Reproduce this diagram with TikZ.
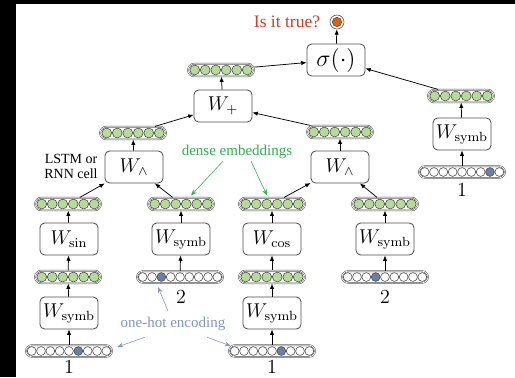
\documentclass[tikz,border=0pt]{standalone}
\usepackage[no-math]{fontspec}
\setmainfont{Liberation Serif}
\usetikzlibrary{arrows.meta,calc}
\definecolor{gfill}{HTML}{B4DC96}
\definecolor{hfill}{HTML}{6A7EA6}
\definecolor{ofill}{HTML}{E0600F}
\definecolor{qred}{HTML}{D23A22}
\definecolor{egreen}{HTML}{2DB34A}
\definecolor{oblue}{HTML}{7F95C2}
\definecolor{edge}{HTML}{4D4D4D}
\tikzset{
  fbox/.style={draw=edge, line width=0.5pt, rounded corners=2.8pt, minimum width=34.8pt, minimum height=19.2pt, inner sep=0pt, font=\fontsize{12}{14}\selectfont},
  contbase/.style={draw=edge, double=white, double distance=0.4pt, line width=0.3pt, inner sep=0pt},
  gcont/.style={contbase, rounded corners=3.9pt, minimum width=39.6pt, minimum height=7.6pt},
  hcont/.style={contbase, rounded corners=3.6pt, minimum width=51.6pt, minimum height=7pt},
  gdot/.style={circle, draw=edge, line width=0.35pt, fill=gfill, minimum size=5.9pt, inner sep=0pt},
  hdot/.style={circle, draw=edge, line width=0.35pt, fill=white, minimum size=5.3pt, inner sep=0pt},
  hon/.style={hdot, fill=hfill},
  conn/.style={-{Latex[length=3.2pt,width=2.6pt]}, line width=0.45pt, black},
  annG/.style={-{Stealth[length=3.6pt,width=2.8pt]}, egreen, line width=0.35pt},
  annB/.style={-{Stealth[length=3.6pt,width=2.8pt]}, oblue, line width=0.35pt},
  idx/.style={font=\fontsize{12}{14}\selectfont, inner sep=0pt},
}
\newcommand{\gvec}[2]{\node[gcont] (#1) at (#2) {};
  \foreach \i in {1,...,6}{\node[gdot] (#1-\i) at ([xshift={(\i-3.5)*6.3pt}]#1.center) {};}}
\newcommand{\hvec}[3]{\node[hcont] (#1) at (#2) {};
  \foreach \i in {1,...,9}{\ifnum\i=#3 \def\hst{hon}\else\def\hst{hdot}\fi
    \node[\hst] (#1-\i) at ([xshift={(\i-5)*5.6pt}]#1.center) {};}}
\begin{document}
\begin{tikzpicture}[x=0.6pt,y=-0.6pt]
\useasboundingbox (0,0) rectangle (515,377);
\fill[black] (0,0) rectangle (515,377);
\fill[white] (16,4) rectangle (515,377);

% top
\node[circle, draw=edge, line width=0.35pt, minimum size=8.4pt, inner sep=0pt] (out) at (337,22) {};
\node[circle, draw=edge, line width=0.35pt, fill=ofill, minimum size=5.6pt, inner sep=0pt] (outin) at (out) {};
\node[text=qred, font=\rmfamily\fontsize{10.5}{12}\selectfont, inner sep=0pt] (q) at (287,22) {Is it true?};
\node[fbox, font=\fontsize{14.4}{16}\selectfont] (sig) at (336,60) {$\sigma(\cdot)$};
\gvec{g0}{221,70}
\node[fbox] (wplus) at (223,106) {$W_{+}$};

% right column
\gvec{gR}{461,96}
\node[fbox] (wsR) at (462,134) {$W_{\mathrm{symb}}$};
\hvec{hR}{462,172}{8}
\node[idx] (lR) at (462,190) {$1$};

% level 2
\gvec{gL}{133,133}
\gvec{gM}{340,132}
\node[fbox] (andL) at (134,167) {$W_{\wedge}$};
\node[fbox] (andR) at (340,167) {$W_{\wedge}$};
\node[font=\rmfamily\fontsize{8.4}{9}\selectfont, align=center, inner sep=0pt] (lstm) at (71,166) {LSTM or\\RNN cell};
\node[text=egreen, font=\rmfamily\fontsize{9}{11}\selectfont, inner sep=0pt] (dense) at (237,152) {dense embeddings};

% level 3
\gvec{e1}{68,204}
\gvec{e2}{181,204}
\gvec{e3}{272,204}
\gvec{e4}{385,204}

% level 4
\node[fbox] (wsin) at (69,239) {$W_{\mathrm{sin}}$};
\node[fbox] (ws2) at (181,239) {$W_{\mathrm{symb}}$};
\node[fbox] (wcos) at (272,239) {$W_{\mathrm{cos}}$};
\node[fbox] (ws4) at (385,239) {$W_{\mathrm{symb}}$};

% level 5
\gvec{f1}{68,277}
\hvec{f2}{180,277}{3}
\node[idx] (l2a) at (181,297) {$2$};
\gvec{f3}{272,277}
\hvec{f4}{385,277}{4}
\node[idx] (l2b) at (385,297) {$2$};

% level 6
\node[fbox] (ws6a) at (69,313) {$W_{\mathrm{symb}}$};
\node[fbox] (ws6b) at (272,313) {$W_{\mathrm{symb}}$};
\node[text=oblue, font=\rmfamily\fontsize{9}{11}\selectfont, inner sep=0pt] (onehot) at (173,324) {one-hot encoding};

% level 7
\hvec{b1}{69,351}{6}
\node[idx] (l1a) at (69,367) {$1$};
\hvec{b2}{272,351}{6}
\node[idx] (l1b) at (272,367) {$1$};

% connectors
\draw[conn] (sig) -- (out);
\draw[conn] (g0) -- (sig);
\draw[conn] (gR) -- (sig);
\draw[conn] (wplus) -- (g0);
\draw[conn] (wsR) -- (gR);
\draw[conn] (hR) -- (wsR);
\draw[conn] (gL) -- (wplus);
\draw[conn] (gM) -- (wplus);
\draw[conn] (andL) -- (gL);
\draw[conn] (andR) -- (gM);
\draw[conn] (e1) -- (andL);
\draw[conn] (e2) -- (andL);
\draw[conn] (e3) -- (andR);
\draw[conn] (e4) -- (andR);
\draw[conn] (wsin) -- (e1);
\draw[conn] (ws2) -- (e2);
\draw[conn] (wcos) -- (e3);
\draw[conn] (ws4) -- (e4);
\draw[conn] (f1) -- (wsin);
\draw[conn] (f2) -- (ws2);
\draw[conn] (f3) -- (wcos);
\draw[conn] (f4) -- (ws4);
\draw[conn] (ws6a) -- (f1);
\draw[conn] (ws6b) -- (f3);
\draw[conn] (b1) -- (ws6a);
\draw[conn] (b2) -- (ws6b);

% annotations
\draw[annG] ($(dense.south)+(-14,2)$) -- ($(e2.north)+(10,-2)$);
\draw[annG] ($(dense.south)+(14,2)$) -- ($(e3.north)+(-5,-2)$);
\draw[annB] ($(onehot.north)+(-5,-6)$) -- ($(f2.south)+(-22,4)$);
\draw[annB] ($(onehot.south)+(-28,6)$) -- ($(b1.east)+(5,-4)$);
\draw[annB] ($(onehot.south)+(34,6)$) -- ($(b2.west)+(2,-5)$);
\end{tikzpicture}
\end{document}
